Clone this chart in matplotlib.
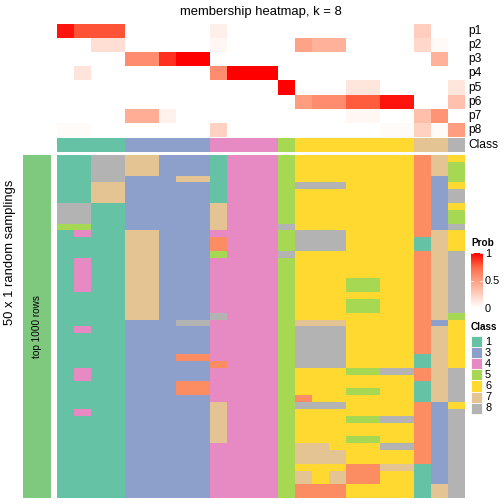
import numpy as np
import matplotlib
matplotlib.use("Agg")
import matplotlib.pyplot as plt
from matplotlib.colors import ListedColormap, LinearSegmentedColormap
from matplotlib.patches import Rectangle

plt.rcParams['font.family'] = ['Liberation Sans', 'DejaVu Sans']

# class colours (Set2), class 2 only shows up inside the samplings grid
class_ids = [1, 2, 3, 4, 5, 6, 7, 8]
class_colors = ["#66C2A5", "#FC8D62", "#8DA0CB", "#E78AC3",
                "#A6D854", "#FFD92F", "#E5C494", "#B3B3B3"]
legend_classes = [1, 3, 4, 5, 6, 7, 8]

# consensus class of each of the 24 columns
column_class = [1, 1, 1, 1, 3, 3, 3, 3, 3, 4, 4, 4, 4, 5,
                6, 6, 6, 6, 6, 6, 6, 7, 7, 8]

# membership probabilities p1..p8 per column
p1 = [0.95, 0.8, 0.8, 0.8, 0, 0, 0, 0, 0, 0.08, 0, 0, 0, 0, 0, 0, 0, 0, 0, 0, 0, 0.25, 0, 0]
p2 = [0, 0, 0.17, 0.17, 0, 0, 0, 0, 0, 0.04, 0, 0, 0, 0, 0.47, 0.4, 0.4, 0, 0, 0, 0, 0.2, 0.03, 0]
p3 = [0, 0, 0, 0, 0.58, 0.58, 0.88, 1, 1, 0, 0, 0, 0, 0, 0, 0, 0, 0, 0, 0, 0, 0, 0.4, 0]
p4 = [0, 0.14, 0, 0, 0, 0, 0, 0, 0, 0.58, 1, 1, 1, 0, 0, 0, 0, 0, 0, 0, 0, 0, 0, 0]
p5 = [0, 0, 0, 0, 0, 0, 0, 0, 0, 0, 0, 0, 0, 1, 0, 0, 0, 0.13, 0.13, 0, 0, 0, 0, 0.13]
p6 = [0, 0, 0, 0, 0, 0, 0, 0, 0, 0, 0, 0, 0, 0, 0.5, 0.58, 0.58, 0.78, 0.78, 0.95, 0.95, 0, 0, 0.32]
p7 = [0, 0, 0, 0, 0.42, 0.42, 0.07, 0, 0, 0, 0, 0, 0, 0, 0, 0, 0, 0.04, 0.04, 0, 0, 0.33, 0.55, 0]
p8 = [0.02, 0.02, 0, 0, 0, 0, 0, 0, 0, 0.24, 0, 0, 0, 0, 0, 0, 0, 0, 0, 0.02, 0.02, 0.24, 0.02, 0.5]
prob_labels = ["p1", "p2", "p3", "p4", "p5", "p6", "p7", "p8"]

# class of each column in each of the 50 random samplings
samplings = [
    "118877333144456666666276",
    "118877333144456666666275",
    "118877333144456666666275",
    "118833377144456666666235",
    "117733333144458886666236",
    "117733333144456666666238",
    "117733333144456666666238",
    "881133333744456666666236",
    "881133333744456666666235",
    "881133333744456666666235",
    "551133333744486666666238",
    "141177333444458886666276",
    "111177333244458886666176",
    "111177333244458886666176",
    "111177333544486666666278",
    "141177333444456666666278",
    "141177333444456666666278",
    "141177333444456666666278",
    "141177333444456665566278",
    "141177333444456665566278",
    "111177333444456666666278",
    "111177333444456665566278",
    "111177333444456665566278",
    "111177333844456666666275",
    "111133388444457776666236",
    "141133333444458886666276",
    "111133333444458886666276",
    "111133333444458886666276",
    "111133333444458886666276",
    "111133322444458886666176",
    "111133333244458886666176",
    "141133333444456665588278",
    "141133333444456666666278",
    "111133322444456666666178",
    "111133322444456665566178",
    "111133333444452666666178",
    "111133333744458886666236",
    "141133333744456666666238",
    "111133333744456665588238",
    "111133333744456666666238",
    "111133333744456666666238",
    "111133333744456665566238",
    "111133333444457766688238",
    "111133333444457776666238",
    "111133333444457776666238",
    "111133333444456662277138",
    "111133333444457672266138",
    "111133333444457672266138",
    "111133333444452226666178",
    "111133333444452226666178",
]

W = H = 504
fig = plt.figure(figsize=(7, 7), dpi=72)


def px_axes(x0, y0, x1, y1):
    ax = fig.add_axes([x0 / W, 1 - y1 / H, (x1 - x0) / W, (y1 - y0) / H])
    ax.set_axis_off()
    return ax


prob_cmap = LinearSegmentedColormap.from_list(
    "prob", [(0, "#FFFFFF"), (0.25, "#FFCFBF"), (0.5, "#FF9E81"),
             (0.75, "#FF6846"), (1, "#FF0000")])
class_cmap = ListedColormap(class_colors)

x_left, x_right = 57.3, 465

# probability heatmap
ax_p = px_axes(x_left, 24, x_right, 137)
probs = np.array([p1, p2, p3, p4, p5, p6, p7, p8])
ax_p.imshow(probs, cmap=prob_cmap, vmin=0, vmax=1, aspect='auto', interpolation='nearest')

# class annotation row
ax_c = px_axes(x_left, 138, x_right, 152.3)
ax_c.imshow(np.array([column_class]), cmap=class_cmap, vmin=0.5, vmax=8.5,
            aspect='auto', interpolation='nearest')

# samplings heatmap
grid = np.array([[int(ch) for ch in row] for row in samplings])
ax_s = px_axes(x_left, 155, x_right, 497.5)
ax_s.imshow(grid, cmap=class_cmap, vmin=0.5, vmax=8.5, aspect='auto', interpolation='nearest')

# colorbar
ax_cb = px_axes(470.7, 253, 482.3, 308)
grad = np.linspace(1, 0, 100).reshape(-1, 1)
ax_cb.imshow(grad, cmap=prob_cmap, vmin=0, vmax=1, aspect='auto')

# text and legends on top of everything
ov = fig.add_axes([0, 0, 1, 1])
ov.set_xlim(0, W)
ov.set_ylim(H, 0)
ov.set_axis_off()

ov.text((x_left + x_right) / 2, 12, "membership heatmap, k = 8", ha='center', va='center', fontsize=13)
row_h = (137 - 24) / 8
for i, lab in enumerate(prob_labels):
    ov.text(468, 24 + row_h * (i + 0.5), lab, ha='left', va='center', fontsize=12)
ov.text(468, 145, "Class", ha='left', va='center', fontsize=12)

ov.add_patch(Rectangle((23, 155), 28, 342.5, facecolor="#7FC97F", edgecolor='none'))
ov.text(37, 327, "top 1000 rows", rotation=90, ha='center', va='center', fontsize=10)
ov.text(10, 252, "50 x 1 random samplings", rotation=90, ha='center', va='center', fontsize=13)

# Prob legend
ov.text(471, 243, "Prob", ha='left', va='center', fontsize=10, fontweight='bold')
for v, lab in [(1, "1"), (0.5, "0.5"), (0, "0")]:
    y = 308 - v * 55
    ov.text(485, y + 1, lab, ha='left', va='center', fontsize=11)
    if v > 0:
        ov.plot([470.7, 473], [y, y], color='white', lw=0.8)
        ov.plot([480, 482.3], [y, y], color='white', lw=0.8)

# Class legend
ov.text(471, 327, "Class", ha='left', va='center', fontsize=10, fontweight='bold')
for i, c in enumerate(legend_classes):
    y = 336 + 11.1 * i
    ov.add_patch(Rectangle((470.7, y), 11, 11.1, facecolor=class_colors[class_ids.index(c)],
                           edgecolor='white', lw=0.8))
    ov.text(485, y + 5.8, str(c), ha='left', va='center', fontsize=11)

fig.savefig("out.png", dpi=72)
